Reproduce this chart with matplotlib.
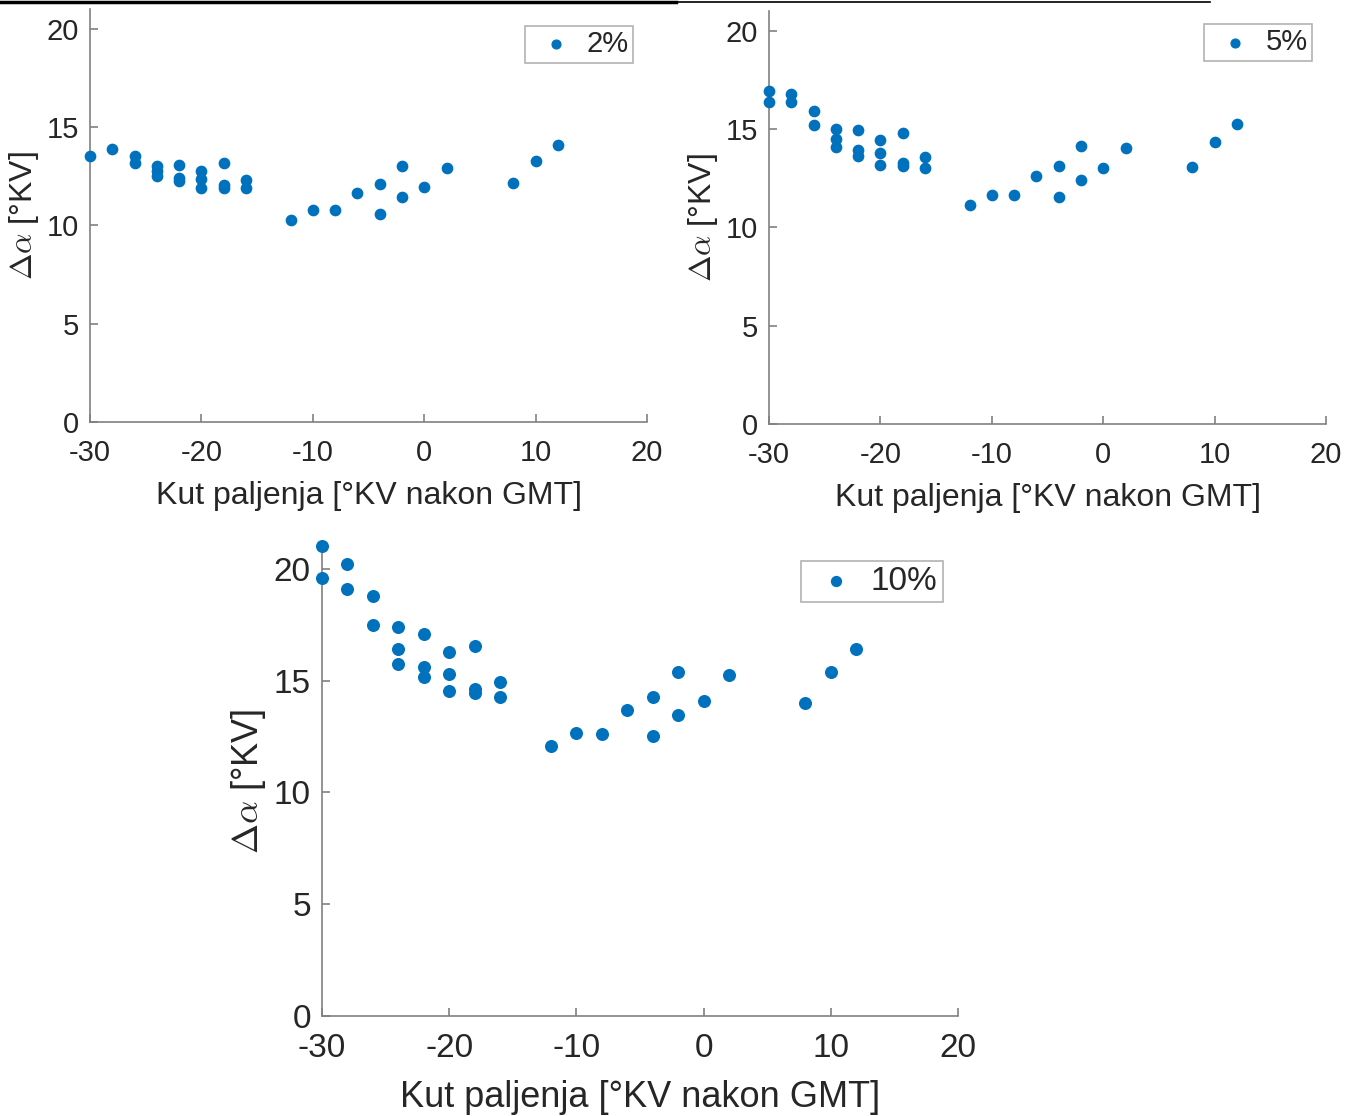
import numpy as np
import matplotlib.pyplot as plt
from matplotlib.lines import Line2D

plt.rcParams['font.family'] = ['Liberation Sans', 'DejaVu Sans']
plt.rcParams['mathtext.fontset'] = 'cm'
plt.rcParams['axes.unicode_minus'] = False

BLUE = '#0072BD'
TEXT = '#262626'
AXIS = '#808080'

# Kut paljenja [°KV nakon GMT]
x_2 = [-30, -28, -26, -26, -24, -24, -24, -22, -22, -22, -20, -20, -20,
       -18, -18, -18, -16, -16, -12, -10, -8, -6, -4, -4, -2, -2, 0, 2, 8, 10, 12]
y_2 = [13.55, 13.9, 13.55, 13.2, 13.0, 12.75, 12.5, 13.05, 12.4, 12.25, 12.75, 12.35, 11.93,
       13.2, 12.05, 11.9, 12.3, 11.9, 10.3, 10.8, 10.8, 11.65, 12.1, 10.6, 13.0, 11.43,
       11.95, 12.93, 12.15, 13.27, 14.1]

x_5 = [-30, -30, -28, -28, -26, -26, -24, -24, -24, -22, -22, -22, -20, -20, -20,
       -18, -18, -18, -16, -16, -12, -10, -8, -6, -4, -4, -2, -2, 0, 2, 8, 10, 12]
y_5 = [16.95, 16.4, 16.8, 16.4, 15.93, 15.22, 15.0, 14.5, 14.08, 14.96, 13.94, 13.66,
       14.45, 13.8, 13.18, 14.82, 13.27, 13.15, 13.59, 13.03, 11.15, 11.65, 11.65, 12.6,
       13.15, 11.54, 14.16, 12.42, 13.0, 14.06, 13.1, 14.33, 15.25]

x_10 = [-30, -30, -28, -28, -26, -26, -24, -24, -24, -22, -22, -22, -20, -20, -20,
        -18, -18, -18, -16, -16, -12, -10, -8, -6, -4, -4, -2, -2, 0, 2, 8, 10, 12]
y_10 = [21.03, 19.6, 20.2, 19.1, 18.8, 17.5, 17.4, 16.42, 15.75, 17.08, 15.63, 15.18,
        16.27, 15.3, 14.56, 16.56, 14.63, 14.44, 14.93, 14.29, 12.09, 12.68, 12.62, 13.68,
        14.27, 12.53, 15.38, 13.47, 14.11, 15.27, 14.02, 15.38, 16.42]

fig = plt.figure(figsize=(13.58, 11.16), dpi=100)

# rect, data, legend label, legend anchor, marker size, font sizes (ticks, labels), xlabel pad
panels = [
    ([0.0663, 0.6219, 0.4102, 0.3698], x_2, y_2, '2%', (0.975, 0.96), 55, 21, 23, 10),
    ([0.5663, 0.6201, 0.4102, 0.3698], x_5, y_5, '5%', (0.975, 0.969), 55, 21, 23, 10),
    ([0.2371, 0.0896, 0.4683, 0.4206], x_10, y_10, '10%', (0.976, 0.969), 70, 24, 26, 12),
]

for rect, xs, ys, lab, anchor, size, tfs, lfs, xpad in panels:
    ax = fig.add_axes(rect)
    ax.scatter(xs, ys, s=size, color=BLUE, label=lab, clip_on=False, zorder=3)
    ax.set_xlim(-30, 20)
    ax.set_ylim(0, 21)
    ax.set_xticks([-30, -20, -10, 0, 10, 20])
    ax.set_yticks([0, 5, 10, 15, 20])
    for side in ['top', 'right']:
        ax.spines[side].set_visible(False)
    for side in ['left', 'bottom']:
        ax.spines[side].set_color(AXIS)
        ax.spines[side].set_linewidth(1.2)
    ax.tick_params(direction='in', length=6, width=1.2, color=AXIS,
                   labelcolor=TEXT, labelsize=tfs)
    ax.tick_params(axis='x', pad=12)
    ax.tick_params(axis='y', pad=8)
    ax.set_xlabel('Kut paljenja [°KV nakon GMT]', fontsize=lfs, color=TEXT, labelpad=xpad)
    ax.set_ylabel(r'$\Delta\alpha$ [°KV]', fontsize=lfs, color=TEXT, labelpad=4)
    leg = ax.legend(loc='upper right', bbox_to_anchor=anchor, fontsize=tfs,
                    fancybox=False, frameon=True, handlelength=1.8,
                    handletextpad=0.15, borderpad=0.15, borderaxespad=0,
                    markerscale=0.85)
    leg.get_frame().set_edgecolor('#a0a0a0')
    leg.get_frame().set_linewidth(1.2)
    for t in leg.get_texts():
        t.set_color(TEXT)

# rules across the top of the page
fig.add_artist(Line2D([0.0, 0.498], [0.9985, 0.9985], color='black', lw=2.5,
                      transform=fig.transFigure))
fig.add_artist(Line2D([0.498, 0.891], [0.998, 0.998], color='black', lw=1.2,
                      transform=fig.transFigure))

fig.savefig('out.png', dpi=100)
